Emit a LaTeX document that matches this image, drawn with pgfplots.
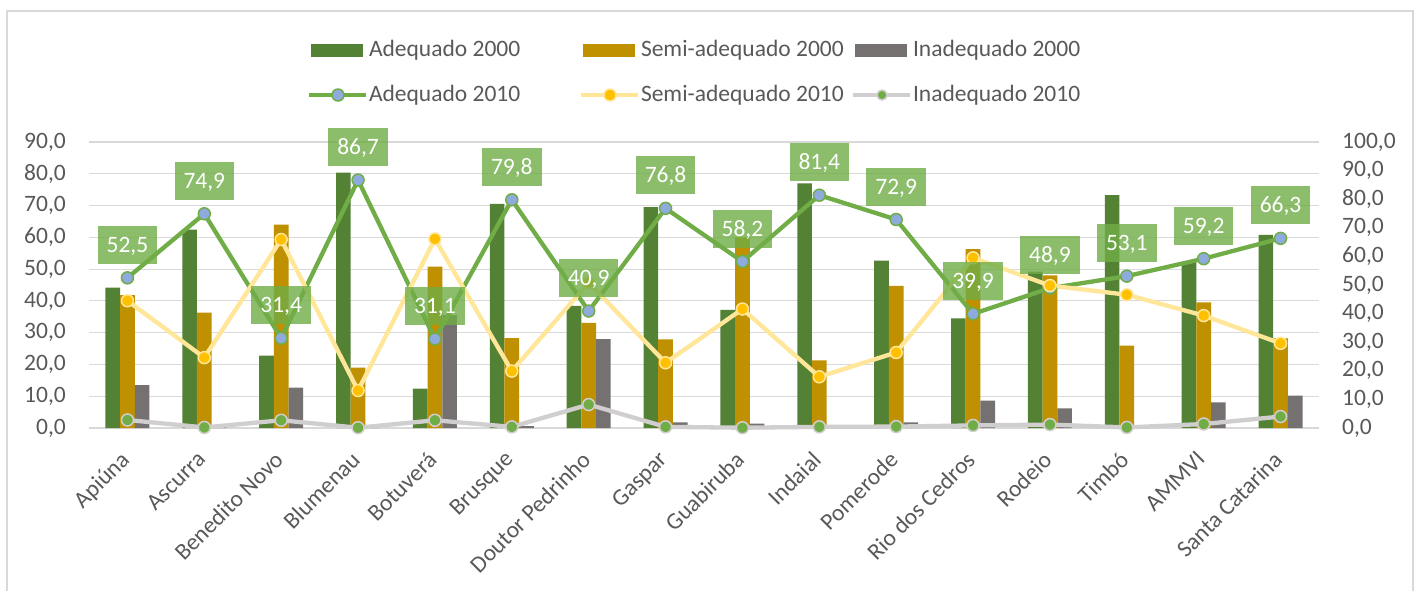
\documentclass[border=0pt]{standalone}
\usepackage{fontspec}
\setmainfont{Carlito}
\usepackage{pgfplots}
\usepackage{pgfplotstable}
\pgfplotsset{compat=1.18}

\definecolor{ade00}{HTML}{548235}
\definecolor{semi00}{HTML}{BF9000}
\definecolor{inad00}{HTML}{767171}
\definecolor{adeline}{HTML}{70AD47}
\definecolor{adefill}{HTML}{8FAADC}
\definecolor{semiline}{HTML}{FFE699}
\definecolor{semifill}{HTML}{FFC000}
\definecolor{inadline}{HTML}{D0CECE}
\definecolor{txt}{HTML}{595959}
\definecolor{gridc}{HTML}{D9D9D9}

\newcommand\f{\fontsize{23.5}{28}\selectfont}

\pgfplotsset{
  barleg/.style={legend image code/.code={\fill[#1] (0pt,-6.5pt) rectangle (52pt,6.5pt);}},
  base/.style={
    at={(89pt,162pt)}, anchor=south west,
    width=1230pt, height=286pt, scale only axis,
    xmin=-0.5, xmax=15.5,
    axis line style={draw=none}, major tick length=0pt,
    tick label style={font=\f, text=txt},
    /pgf/number format/fixed,
    /pgf/number format/fixed zerofill,
    /pgf/number format/precision=1,
    /pgf/number format/use comma,
    /pgf/number format/assume math mode=true,
  },
}

% x: municipio, a/s/i = adequado / semi-adequado / inadequado
\pgfplotstableread{
x  a00  s00  i00  a10  s10  i10
0  44.2 41.8 13.5 52.5 44.5 2.8
1  62.4 36.3 0.4  74.9 24.6 0.2
2  22.8 64.0 12.7 31.4 65.9 2.7
3  80.4 19.0 0.3  86.7 13.1 0.1
4  12.4 50.8 35.5 31.1 66.1 2.7
5  70.5 28.3 0.6  79.8 19.9 0.4
6  38.4 33.1 28.0 40.9 50.8 8.2
7  69.5 27.9 1.8  76.8 22.8 0.4
8  37.2 60.0 1.4  58.2 41.6 0.1
9  77.0 21.3 0.5  81.4 17.9 0.4
10 52.7 44.7 1.8  72.9 26.4 0.5
11 34.5 56.3 8.6  39.9 59.5 0.9
12 49.2 48.0 6.2  48.9 49.8 1.2
13 73.3 25.9 0.2  53.1 46.6 0.2
14 52.1 39.5 8.1  59.2 39.3 1.4
15 60.8 28.2 10.2 66.3 29.6 4.0
}\data

\begin{document}
\begin{tikzpicture}
\fill[white] (0,0) rectangle (1418pt,590pt);
\useasboundingbox (0,0) rectangle (1418pt,590pt);
\draw[gridc, line width=2pt] (7pt,-5pt) -- (7pt,578.5pt) -- (1413pt,578.5pt) -- (1413pt,-5pt);

\begin{axis}[base,
  ymin=0, ymax=90, ytick={0,10,...,90},
  ymajorgrids, grid style={gridc, line width=1.2pt},
  ybar=0pt, bar width=14.7pt,
  xtick={0,...,15},
  xticklabels={Apiúna, Ascurra, Benedito Novo, Blumenau, Botuverá, Brusque,
    Doutor Pedrinho, Gaspar, Guabiruba, Indaial, Pomerode, Rio dos Cedros,
    Rodeio, Timbó, AMMVI, Santa Catarina},
  % shifts here act in the rotated frame
  xticklabel style={anchor=north east, inner sep=0pt, xshift=-8.3pt, yshift=-21.7pt, rotate=45},
  yticklabel style={anchor=east, inner sep=0pt, xshift=-23pt},
  legend columns=3,
  legend style={
    at={(axis description cs:0.1805,1.3601)}, anchor=north west,
    draw=none, fill=none, inner sep=0pt, outer sep=0pt,
    font=\f, text=txt,
    column sep=0pt, row sep=23pt,
    nodes={inner sep=0pt, text height=17pt, text depth=5pt},
  },
  legend cell align=left,
]
\addplot[fill=ade00, draw=none, barleg=ade00] table[x=x, y=a00] {\data};
\addlegendentry{\hspace*{6pt}\makebox[214pt][l]{Adequado 2000}}
\addplot[fill=semi00, draw=none, barleg=semi00] table[x=x, y=s00] {\data};
\addlegendentry{\hspace*{6pt}\makebox[214pt][l]{Semi-adequado 2000}}
\addplot[fill=inad00, draw=none, barleg=inad00] table[x=x, y=i00] {\data};
\addlegendentry{\hspace*{6pt}\makebox[214pt][l]{Inadequado 2000}}

\addlegendimage{legend image code/.code={
  \path[draw=none, fill=none] (0pt,-6.5pt) rectangle (52pt,6.5pt);
  \draw[overlay, adeline, line width=4pt] (-2pt,0pt) -- (55pt,0pt);
  \draw[overlay, adeline, fill=adefill, line width=1.5pt] (27pt,0pt) circle (6pt);}}
\addlegendentry{\hspace*{6pt}\makebox[214pt][l]{Adequado 2010}}
\addlegendimage{legend image code/.code={
  \path[draw=none, fill=none] (0pt,-6.5pt) rectangle (52pt,6.5pt);
  \draw[overlay, semiline, line width=4pt] (-2pt,0pt) -- (55pt,0pt);
  \draw[overlay, semiline, fill=semifill, line width=1.5pt] (27pt,0pt) circle (6pt);}}
\addlegendentry{\hspace*{6pt}\makebox[214pt][l]{Semi-adequado 2010}}
\addlegendimage{legend image code/.code={
  \path[draw=none, fill=none] (0pt,-6.5pt) rectangle (52pt,6.5pt);
  \draw[overlay, inadline, line width=4pt] (-2pt,0pt) -- (55pt,0pt);
  \draw[overlay, inadline, fill=adeline, line width=1.5pt] (27pt,0pt) circle (5pt);}}
\addlegendentry{\hspace*{6pt}\makebox[214pt][l]{Inadequado 2010}}
\end{axis}

\begin{axis}[base,
  ymin=0, ymax=100, ytick={0,10,...,100},
  axis y line*=right, hide x axis,
  yticklabel style={anchor=west, inner sep=0pt, xshift=23pt},
  clip=false,
]
\addplot[adeline, line width=4.3pt, mark=*, mark size=6pt,
  mark options={fill=adefill, draw=adeline, line width=1.5pt}]
  table[x=x, y=a10] {\data};
\addplot[semiline, line width=4.3pt, mark=*, mark size=6pt,
  mark options={fill=semifill, draw=semiline, line width=1.5pt}]
  table[x=x, y=s10] {\data};
\addplot[inadline, line width=4.3pt, mark=*, mark size=6pt,
  mark options={fill=adeline, draw=inadline, line width=1.5pt}]
  table[x=x, y=i10] {\data};
% rotulos de dados do Adequado 2010, por cima de tudo
\addplot[draw=none, nodes near coords,
  every node near coord/.style={anchor=center, yshift=33pt,
    fill=adeline, fill opacity=0.8, text opacity=1, text=white, font=\f,
    inner xsep=9pt, minimum height=38pt, text height=16pt, text depth=1pt}]
  table[x=x, y=a10] {\data};
\end{axis}
\end{tikzpicture}
\end{document}
